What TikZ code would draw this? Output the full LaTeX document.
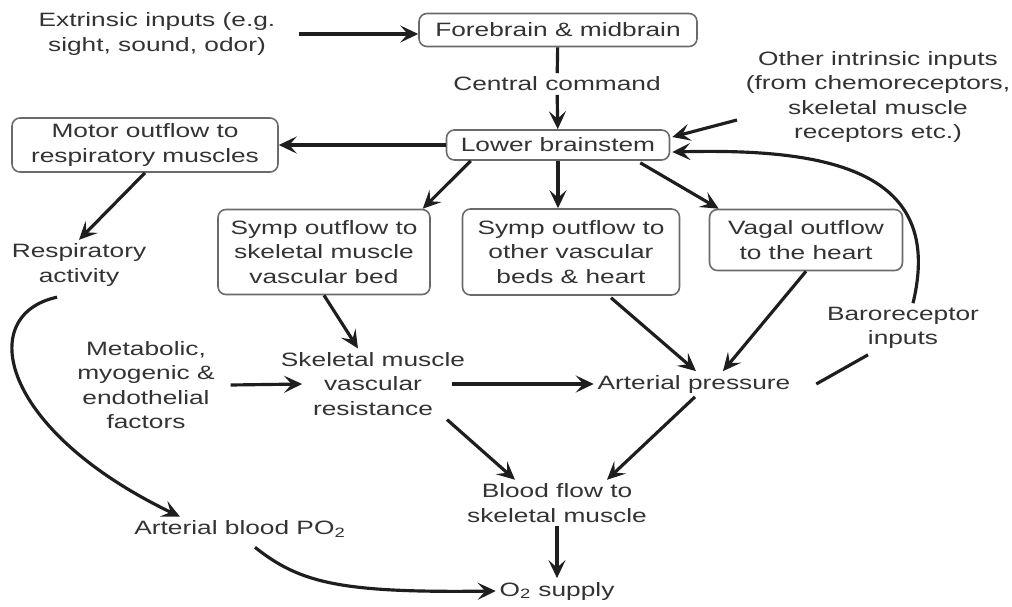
\documentclass[tikz,border=0pt]{standalone}
\usepackage{fontspec}
\setmainfont{Liberation Sans}[FakeStretch=1.36]
\usetikzlibrary{arrows.meta,calc}
\definecolor{cink}{HTML}{1E1E1E}
\definecolor{ctext}{HTML}{333333}
\definecolor{cframe}{HTML}{6A6A6A}

\begin{document}
\begin{tikzpicture}[x=0.02cm, y=-0.02cm,
  font=\fontsize{11}{14}\selectfont, text=ctext,
  box/.style={draw=cframe, line width=0.9pt, rounded corners=4.5pt, align=center, inner sep=2pt},
  lbl/.style={align=center, inner sep=2pt},
  arr/.style={-{Stealth[length=3.6mm, width=3.4mm, inset=1.5mm]}, cink, line width=1.8pt},
  link/.style={cink, line width=1.8pt}]

\useasboundingbox[fill=white] (0,0) rectangle (1012,606);

% ---- brain row
\node[lbl] (ext) at (157,34) {Extrinsic inputs (e.g.\\ sight, sound, odor)};
\node[box, minimum width=5.56cm, minimum height=0.66cm] (fore) at (558,30) {Forebrain \& midbrain};
\node[lbl] (cc) at (557,84) {Central command};
\node[lbl] (intr) at (878,97) {Other intrinsic inputs\\ (from chemoreceptors,\\ skeletal muscle\\ receptors etc.)};
\node[box, minimum width=4.46cm, minimum height=0.60cm] (lbs) at (558,145) {Lower brainstem};
\node[box, minimum width=5.32cm, minimum height=1.08cm] (motor) at (145,145) {Motor outflow to\\ respiratory muscles};

% ---- outflow row
\node[lbl] (resp) at (79,265) {Respiratory\\ activity};
\node[box, minimum width=4.24cm, minimum height=1.70cm] (sskel) at (324,252) {Symp outflow to\\ skeletal muscle\\ vascular bed};
\node[box, minimum width=4.34cm, minimum height=1.72cm] (sother) at (571,252) {Symp outflow to\\ other vascular\\ beds \& heart};
\node[box, minimum width=3.86cm, minimum height=1.22cm] (vagal) at (806,240) {Vagal outflow\\ to the heart};
\node[lbl] (baro) at (903,328) {Baroreceptor\\ inputs};

% ---- effects
\node[lbl] (metab) at (146,385) {Metabolic,\\ myogenic \&\\ endothelial\\ factors};
\node[lbl] (smvr) at (373,384) {Skeletal muscle\\ vascular\\ resistance};
\node[lbl] (ap) at (694,384) {Arterial pressure};
\node[lbl] (bf) at (557,503) {Blood flow to\\ skeletal muscle};
\node[lbl] (po2) at (240,529) {Arterial blood PO\textsubscript{2}};
\node[lbl] (o2) at (557,591) {O\textsubscript{2} supply};

\draw[arr] ($(ext.east)+(20,0)$) -- (ext.east -| fore.west);
\draw[link] (fore) -- (cc); \draw[arr] (cc) -- (lbs);
\draw[arr] ($(intr.west)+(-5,23)$) -- ($(lbs.east)+(2,-8)$);
\draw[arr] ($(baro.north)+(10,0)$) .. controls +(32,-132) and +(158,-4) .. ($(lbs.east)+(2,7)$);
\draw[link] ($(ap.east)+(22,0)$) -- ($(baro.south)+(-35,2)$);

\draw[arr] (lbs.west) -- (motor.east);
\draw[arr] (motor.south) -- (resp.north);
\draw[arr] ($(lbs.south west)+(25,0)$) -- ($(sskel.north east)+(-8,0)$);
\draw[arr] (lbs.south) -- (lbs.south |- sother.north);
\draw[arr] ($(lbs.south east)+(-30,2)$) -- ($(vagal.north west)+(10,0)$);

\draw[arr] (sskel.south) -- ($(smvr.north)+(-15,0)$);
\draw[arr] ($(metab.east)+(12,0)$) -- ($(smvr.west)+(25,0)$);
\draw[arr] ($(smvr.east)+(-17,0)$) -- (ap.west);
\draw[arr] ($(sother.south)+(40,2)$) -- ($(ap.north)+(2,0)$);
\draw[arr] (vagal.south) -- ($(ap.north)+(29,0)$);
\draw[arr] ($(smvr.south)+(74,0)$) -- ($(bf.north)+(-42,0)$);
\draw[arr] ($(ap.south)+(1,0)$) -- ($(bf.north)+(50,0)$);
\draw[arr] (bf) -- (o2);

\draw[arr] ($(resp.south)+(-22,7)$) .. controls (-25,315) and (0,430) .. ($(po2.north)+(-60,0)$);
\draw[arr] ($(po2.south)+(15,6)$) .. controls (300,583) and (340,593) .. (o2.west);
\end{tikzpicture}
\end{document}
